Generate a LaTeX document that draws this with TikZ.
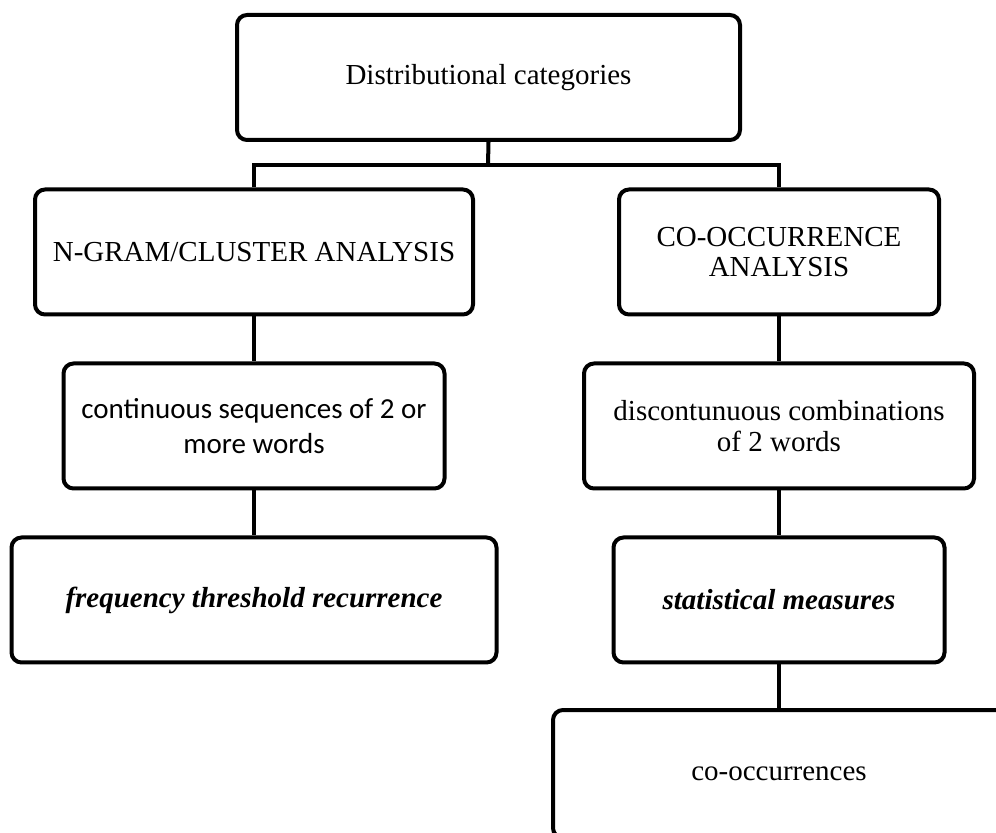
\documentclass[tikz,border=0pt]{standalone}
\usepackage{fontspec}
\setmainfont{Liberation Serif}
\newfontfamily\calibrifont{Carlito}
\usetikzlibrary{positioning}

\begin{document}
\begin{tikzpicture}[%
    x=0.5pt,
    y=-0.5pt,
    node distance=87pt,
    on grid,
    box/.style={draw, line width=2pt, rounded corners=5pt, align=center,
        minimum height=62.5pt, font=\fontsize{14.5}{15.3}\selectfont},
    link/.style={line width=2pt}
    ]

    \useasboundingbox[fill=white] (0,0) rectangle (996,833);
    \clip (0,0) rectangle (996,833);

    \node[box, minimum width=251.5pt] (dist) at (488.5,77.5) {Distributional categories};
    \node[box, minimum width=219pt] (ngram) at (254,252) {N-GRAM/CLUSTER ANALYSIS};
    \node[box, minimum width=160pt] (cooc) at (779,252) {CO-OCCURRENCE\\ANALYSIS};
    \node[box, minimum width=190.5pt, font=\calibrifont\fontsize{14.5}{17.5}\selectfont] (contseq) [below=of ngram] {continuous sequences of 2 or\\more words};
    \node[box, minimum width=195pt] (discont) [below=of cooc] {discontunuous combinations\\of 2 words};
    \node[box, minimum width=242.5pt] (freq) [below=of contseq] {\textbf{\textit{frequency threshold recurrence}}};
    \node[box, minimum width=165.5pt] (stat) [below=of discont] {\textbf{\textit{statistical measures}}};
    \node[box, minimum width=226pt, minimum height=64pt] (cooccs) [below=of stat] {co-occurrences};

    \coordinate (bus) at (488,165);
    \draw[link] (dist.south) -- (bus);
    \draw[link] (ngram.north) |- (bus) -| (cooc.north);
    \draw[link] (ngram) -- (contseq);
    \draw[link] (contseq) -- (freq);
    \draw[link] (cooc) -- (discont);
    \draw[link] (discont) -- (stat);
    \draw[link] (stat) -- (cooccs);

\end{tikzpicture}
\end{document}
